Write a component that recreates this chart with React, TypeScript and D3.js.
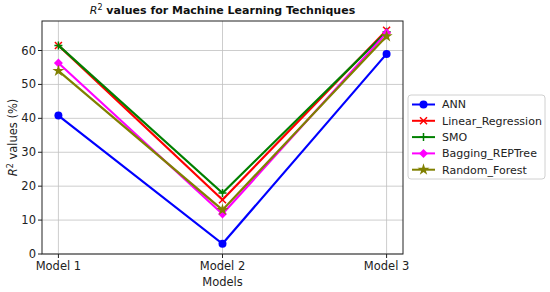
import React from "react";
import * as d3 from "d3";

const categories = ["Model 1", "Model 2", "Model 3"];
const yTicks = [0, 10, 20, 30, 40, 50, 60];
const annValues = [40.8, 3, 59];
const linearValues = [61.5, 16, 66];
const smoValues = [61.5, 18, 65.5];
const baggingValues = [56.3, 11.8, 65.2];
const forestValues = [54, 13, 64.2];
const seriesNames = ["ANN", "Linear_Regression", "SMO", "Bagging_REPTree", "Random_Forest"];
const seriesColors = ["#0000ff", "#ff0000", "#008000", "#ff00ff", "#808000"];
const seriesMarkers = ["circle", "x", "plus", "diamond", "star"];

const W = 550, H = 292;
const left = 42, right = 403, top = 21, bottom = 254;
const FONT = "DejaVu Sans, sans-serif";

function Marker({ type, x, y, color }: { type: string; x: number; y: number; color: string }) {
  if (type === "circle") return <circle cx={x} cy={y} r={4} fill={color} />;
  if (type === "x")
    return (
      <path d={`M${x - 3.5},${y - 3.5}L${x + 3.5},${y + 3.5}M${x - 3.5},${y + 3.5}L${x + 3.5},${y - 3.5}`} stroke={color} strokeWidth={1.5} />
    );
  if (type === "plus")
    return <path d={`M${x - 4},${y}L${x + 4},${y}M${x},${y - 4}L${x},${y + 4}`} stroke={color} strokeWidth={1.5} />;
  if (type === "diamond")
    return <path d={`M${x},${y - 4.5}L${x + 4.5},${y}L${x},${y + 4.5}L${x - 4.5},${y}Z`} fill={color} />;
  const star = d3.symbol(d3.symbolStar, 45)();
  return <path d={star || ""} transform={`translate(${x},${y})`} fill={color} />;
}

export default function App() {
  const x = d3.scaleLinear().domain([-0.1, 2.1]).range([left, right]);
  const y = d3.scaleLinear().domain([0, 68.7]).range([bottom, top]);
  const allValues = [annValues, linearValues, smoValues, baggingValues, forestValues];
  const line = d3
    .line<number>()
    .x((_, i) => x(i))
    .y((d) => y(d));

  const legendX = 408, legendY = 95, legendW = 137, legendH = 84;

  return (
    <svg width={W} height={H} style={{ position: "absolute", left: 0, top: 0 }} fontFamily={FONT}>
      <rect width={W} height={H} fill="#fff" />
      {/* grid */}
      {categories.map((c, i) => (
        <line key={c} x1={x(i)} x2={x(i)} y1={top} y2={bottom} stroke="#c0c0c0" strokeWidth={0.8} />
      ))}
      {yTicks.map((t) => (
        <line key={t} x1={left} x2={right} y1={y(t)} y2={y(t)} stroke="#c0c0c0" strokeWidth={0.8} />
      ))}
      {/* series */}
      {allValues.map((vals, si) => (
        <g key={si}>
          <path d={line(vals) || ""} fill="none" stroke={seriesColors[si]} strokeWidth={2.2} />
          {vals.map((v, i) => (
            <Marker key={i} type={seriesMarkers[si]} x={x(i)} y={y(v)} color={seriesColors[si]} />
          ))}
        </g>
      ))}
      {/* frame */}
      <rect x={left} y={top} width={right - left} height={bottom - top} fill="none" stroke="#222" strokeWidth={1} />
      {/* y ticks */}
      {yTicks.map((t) => (
        <g key={t}>
          <line x1={left - 4} x2={left} y1={y(t)} y2={y(t)} stroke="#222" />
          <text x={left - 6} y={y(t)} dy="0.35em" textAnchor="end" fontSize={11.5} fill="#222">
            {t}
          </text>
        </g>
      ))}
      {/* x ticks */}
      {categories.map((c, i) => (
        <g key={c}>
          <line x1={x(i)} x2={x(i)} y1={bottom} y2={bottom + 4} stroke="#222" />
          <text x={x(i)} y={bottom + 16} textAnchor="middle" fontSize={11.5} fill="#222">
            {c}
          </text>
        </g>
      ))}
      <text x={(left + right) / 2} y={286} textAnchor="middle" fontSize={11.5} fill="#222">
        Models
      </text>
      <text transform={`translate(17,${(top + bottom) / 2}) rotate(-90)`} textAnchor="middle" fontSize={11.5} fill="#222">
        <tspan fontStyle="italic">R</tspan>
        <tspan fontSize={8} dy={-4}>2</tspan>
        <tspan dy={4}> values (%)</tspan>
      </text>
      <text x={(left + right) / 2} y={14} textAnchor="middle" fontSize={11} fill="#111" fontWeight="bold">
        <tspan fontStyle="italic" fontWeight="normal">R</tspan>
        <tspan fontSize={8} dy={-4} fontWeight="normal">2</tspan>
        <tspan dy={4}> values for Machine Learning Techniques</tspan>
      </text>
      {/* legend */}
      <rect x={legendX} y={legendY} width={legendW} height={legendH} rx={3} fill="#fff" stroke="#d0d0d0" />
      {seriesNames.map((n, i) => {
        const ly = legendY + 9.5 + i * 16.3;
        return (
          <g key={n}>
            <line x1={legendX + 4} x2={legendX + 27} y1={ly} y2={ly} stroke={seriesColors[i]} strokeWidth={2} />
            <Marker type={seriesMarkers[i]} x={legendX + 15.5} y={ly} color={seriesColors[i]} />
            <text x={legendX + 34} y={ly} dy="0.35em" fontSize={11} fill="#222">
              {n}
            </text>
          </g>
        );
      })}
    </svg>
  );
}
